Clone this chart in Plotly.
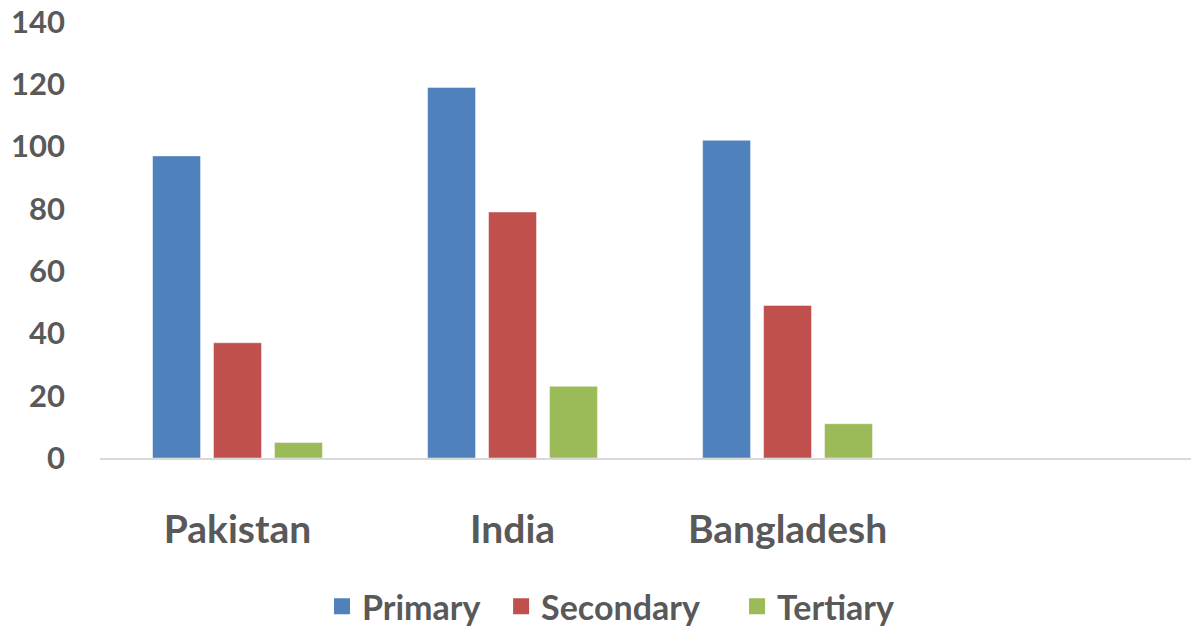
import plotly.graph_objects as go

categories = ["Pakistan", "India", "Bangladesh"]
primary = [97, 119, 102]
secondary = [37, 79, 49]
tertiary = [5, 23, 11]
series_names = ["Primary", "Secondary", "Tertiary"]
series_values = [primary, secondary, tertiary]
series_colors = ["#4F81BD", "#C0504D", "#9BBB59"]
legend_pad = ["\u00a0\u00a0", "\u00a0\u00a0\u00a0\u00a0", ""]
y_ticks = [0, 20, 40, 60, 80, 100, 120, 140]

FONT = "Lato"
GRAY = "#595959"

fig = go.Figure()
for name, vals, col in zip(series_names, series_values, series_colors):
    fig.add_trace(go.Bar(
        x=categories, y=vals, name=name, showlegend=False,
        marker=dict(color=col, line=dict(color="rgba(255,255,255,0.45)", width=1)),
    ))
# legend proxies (square swatches)
for name, col, pad in zip(series_names, series_colors, legend_pad):
    fig.add_trace(go.Scatter(
        x=[None], y=[None], mode="markers", name=name + pad,
        marker=dict(symbol="square", size=18, color=col),
        showlegend=True, hoverinfo="skip",
    ))

fig.update_layout(
    width=1191, height=628,
    paper_bgcolor="white", plot_bgcolor="white",
    margin=dict(l=100, r=0, t=22, b=170),
    barmode="group", bargap=0.335, bargroupgap=0.213,
    showlegend=True,
    legend=dict(orientation="h", xref="container", yref="container",
                x=0.513, xanchor="center", y=0.034, yanchor="middle",
                font=dict(family=FONT, size=34, color=GRAY, weight="bold"),
                itemwidth=30, itemsizing="trace", traceorder="normal"),
    font=dict(family=FONT, color=GRAY),
)
fig.update_xaxes(
    type="category", categoryarray=categories + [" "],
    range=[-0.5, 3.467],
    showline=True, linecolor="#D9D9D9", linewidth=2,
    showgrid=False, ticks="", zeroline=False,
    tickfont=dict(family=FONT, size=39, color=GRAY, weight="bold"),
    ticklabelstandoff=36,
)
fig.update_yaxes(
    range=[0, 140], tickvals=y_ticks,
    showgrid=False, zeroline=False, showline=False, ticks="",
    tickfont=dict(family=FONT, size=31, color=GRAY, weight="bold"),
    ticklabelstandoff=34,
)

fig.write_html("out.html")
